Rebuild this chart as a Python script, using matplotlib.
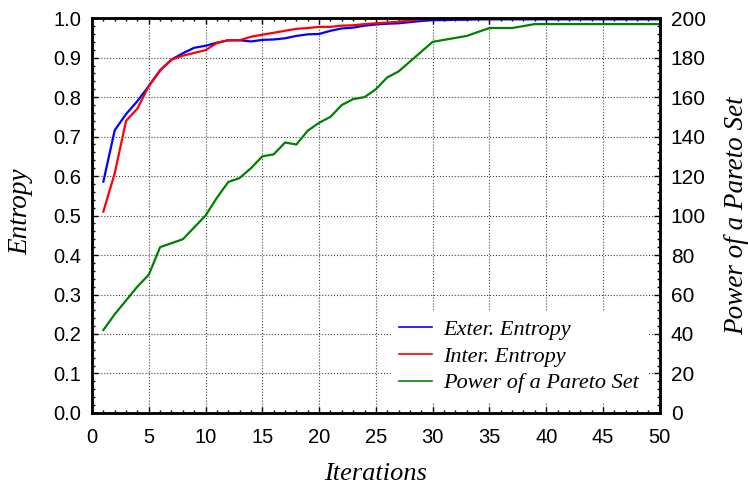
import numpy as np
import matplotlib.pyplot as plt
from matplotlib.ticker import MultipleLocator

iterations = np.arange(1, 51)

exter_entropy = [0.586, 0.716, 0.757, 0.790, 0.828, 0.868, 0.895, 0.911, 0.925, 0.930,
                 0.938, 0.944, 0.944, 0.941, 0.945, 0.946, 0.949, 0.955, 0.959, 0.960,
                 0.968, 0.974, 0.976, 0.981, 0.984, 0.986, 0.987, 0.990, 0.993, 0.995,
                 0.995, 0.996, 0.996, 0.997, 0.997, 0.997, 0.997, 0.997, 0.997, 0.997,
                 0.997, 0.997, 0.997, 0.997, 0.997, 0.997, 0.997, 0.997, 0.997, 0.997]

inter_entropy = [0.510, 0.607, 0.740, 0.771, 0.828, 0.867, 0.895, 0.905, 0.912, 0.919,
                 0.937, 0.944, 0.944, 0.953, 0.958, 0.963, 0.968, 0.973, 0.975, 0.978,
                 0.978, 0.981, 0.982, 0.985, 0.987, 0.989, 0.991, 0.994, 0.997, 0.999,
                 0.999, 0.999, 0.999, 0.999, 0.999, 0.999, 0.999, 0.999, 0.999, 0.999,
                 0.999, 0.999, 0.999, 0.999, 0.999, 0.999, 0.999, 0.999, 0.999, 0.999]

pareto_power = [42, 50, 57, 64, 70, 84, 86, 88, 94, 100,
                109, 117, 119, 124, 130, 131, 137, 136, 143, 147,
                150, 156, 159, 160, 164, 170, 173, 178, 183, 188,
                189, 190, 191, 193, 195, 195, 195, 196, 197, 197,
                197, 197, 197, 197, 197, 197, 197, 197, 197, 197]

tick_font = 'Liberation Sans'
label_font = 'Liberation Serif'

fig = plt.figure(figsize=(7.48, 4.91), dpi=100)
ax = fig.add_axes([0.123, 0.159, 0.759, 0.804])
ax2 = ax.twinx()

l1, = ax.plot(iterations, exter_entropy, color='blue', lw=1.6, label='Exter. Entropy')
l2, = ax.plot(iterations, inter_entropy, color='red', lw=1.6, label='Inter. Entropy')
l3, = ax2.plot(iterations, pareto_power, color='green', lw=1.6, label='Power of a Pareto Set')

ax.set_xlim(0, 50)
ax.set_ylim(0, 1.0)
ax2.set_ylim(0, 200)

ax.xaxis.set_major_locator(MultipleLocator(5))
ax.xaxis.set_minor_locator(MultipleLocator(1))
ax.yaxis.set_major_locator(MultipleLocator(0.1))
ax.yaxis.set_minor_locator(MultipleLocator(0.02))
ax2.yaxis.set_major_locator(MultipleLocator(20))
ax2.yaxis.set_minor_locator(MultipleLocator(4))

ax.set_yticks(np.arange(0, 1.01, 0.1))
ax.set_yticklabels(['%.1f' % v for v in np.arange(0, 1.01, 0.1)])

ax.grid(True, which='major', color='#444444', linestyle=':', linewidth=0.8)
ax.set_axisbelow(True)

ax.tick_params(axis='both', which='both', direction='in', top=True, right=False)
ax.tick_params(which='major', length=4, width=1, labelsize=14.5)
ax.tick_params(which='minor', length=2.5, width=1)
ax.tick_params(axis='x', which='major', pad=11)
ax.tick_params(axis='y', which='major', pad=8)
ax2.tick_params(which='both', direction='in')
ax2.tick_params(which='major', length=4, width=1, labelsize=15, pad=8)
ax2.tick_params(which='minor', length=2.5, width=1)

for a in (ax, ax2):
    for lab in a.get_xticklabels() + a.get_yticklabels():
        lab.set_fontfamily(tick_font)
    for s in a.spines.values():
        s.set_linewidth(1.8)

ax.set_xlabel('Iterations', fontfamily=label_font, fontstyle='italic', fontsize=19)
ax.set_ylabel('Entropy', fontfamily=label_font, fontstyle='italic', fontsize=19.5)
ax2.set_ylabel('Power of a Pareto Set', fontfamily=label_font, fontstyle='italic', fontsize=19.5)
ax.xaxis.set_label_coords(0.5, -0.128)
ax.yaxis.set_label_coords(-0.103, 0.51)
ax2.yaxis.set_label_coords(1.113, 0.5)

leg = ax2.legend(handles=[l1, l2, l3], loc='lower right', bbox_to_anchor=(0.977, 0.03),
                 borderaxespad=0,
                 prop={'family': label_font, 'style': 'italic', 'size': 16},
                 frameon=True, fancybox=False, framealpha=1, edgecolor='white',
                 handlelength=1.5, borderpad=0.35, labelspacing=0.28, handletextpad=0.5)
for h in leg.get_lines():
    h.set_linewidth(1.2)

fig.savefig('out.png', dpi=100)
